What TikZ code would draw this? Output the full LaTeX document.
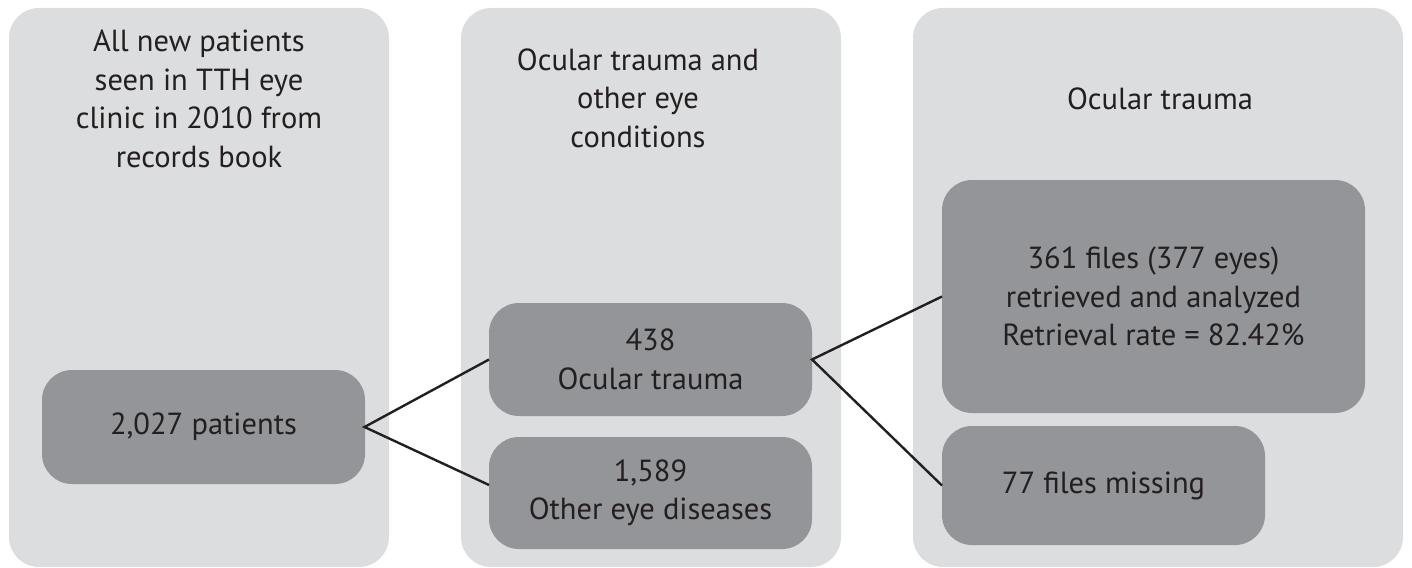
\documentclass[tikz,border=0pt]{standalone}
\usepackage{fontspec}
\setmainfont{PT Sans}
\definecolor{panelgray}{HTML}{DCDDDE}
\definecolor{boxgray}{HTML}{939598}
\definecolor{inkblack}{HTML}{231F20}
\begin{document}
\begin{tikzpicture}[x=1pt,y=-1pt,
  panel/.style={fill=panelgray,draw=none,rounded corners=30pt,inner sep=0pt,outer sep=0pt,minimum width=#1,minimum height=559pt},
  gbox/.style 2 args={fill=boxgray,draw=none,rounded corners=30pt,inner sep=0pt,outer sep=0pt,minimum width=#1,minimum height=#2},
  txt/.style={align=center,text=inkblack,font=\fontsize{30.5}{38.5}\selectfont,inner sep=0pt},
  link/.style={draw=inkblack,line width=2.4pt}]
\useasboundingbox (0,0) rectangle (1412,567);
% panels
\node[panel=380pt] (p1) at (199,287.5) {};
\node[panel=380pt] (p2) at (651,287.5) {};
\node[panel=490pt] (p3) at (1158,287.5) {};
% headings
\node[txt] (h1) at (199,99) {All new patients\\seen in TTH eye\\clinic in 2010 from\\records book};
\node[txt] (h2) at (638,98) {Ocular trauma and\\other eye\\conditions};
\node[txt] (h3) at (1160,99) {Ocular trauma};
% boxes
\node[gbox={323pt}{114pt},txt] (a) at (203.5,427) {2,027 patients};
\node[gbox={323pt}{113pt},txt] (b) at (650.5,359.5) {438\\Ocular trauma};
\node[gbox={323pt}{112pt},txt] (c) at (650.5,493) {1,589\\Other eye diseases};
\node[gbox={423pt}{233pt},txt] (d) at (1153.5,296.5) {361 files (377 eyes)\\retrieved and analyzed\\Retrieval rate = 82.42\%};
\node[gbox={323pt}{119pt},txt] (e) at (1103.5,485.5) {77 files missing};
% connectors
\draw[link] (b.west) -- ([xshift=-0.5pt]a.east) -- ([yshift=8pt]c.west);
\draw[link] (d.west) -- (b.east) -- (e.west);
\end{tikzpicture}
\end{document}
